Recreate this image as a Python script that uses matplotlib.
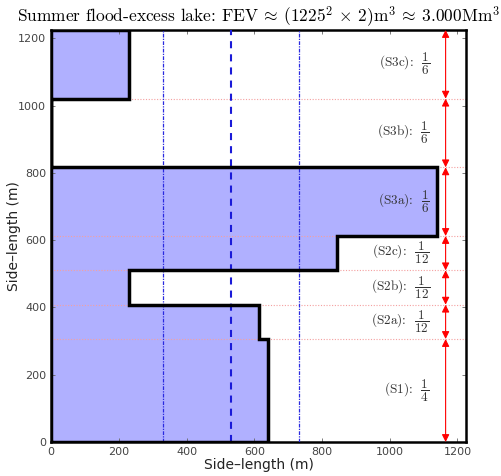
import matplotlib
matplotlib.use("Agg")
import matplotlib.pyplot as plt
import numpy as np

plt.rcParams['mathtext.fontset'] = 'cm'
plt.rcParams['axes.unicode_minus'] = False

L = 1225.0
# section fractions of the side length and widths of the filled area
sections = ['S1', 'S2a', 'S2b', 'S2c', 'S3a', 'S3b', 'S3c']
frac_num = [1, 1, 1, 1, 1, 1, 1]
frac_den = [4, 12, 12, 12, 6, 6, 6]
widths = [640, 613, 231, 844, 1140, 0, 230]
vlines_dashdot = [330, 733]
vline_dashed = 530
arrow_x = 1165

fr = np.array(frac_num) / np.array(frac_den)
bounds = np.concatenate([[0], np.cumsum(fr) * L])

fig = plt.figure(figsize=(5.01, 4.76), dpi=100)
ax = fig.add_axes([0.102, 0.0714, 0.828, 0.8656])

# polygon of the stepped outline
xs = [0]
ys = [0]
for i, w in enumerate(widths):
    xs += [w, w]
    ys += [bounds[i], bounds[i + 1]]
xs += [0, 0]
ys += [L, 0]
ax.fill(xs, ys, color='#b0b0ff', zorder=1, lw=0)
ax.plot(xs, ys, color='black', lw=2.5, zorder=4, solid_joinstyle='miter')

for b in bounds[1:-1]:
    ax.axhline(b, color='#f4a0a0', lw=0.8, ls=(0, (1, 1.5)), zorder=2)

for v in vlines_dashdot:
    ax.axvline(v, color='#2a2ae0', lw=0.9, ls=(0, (3, 1, 1, 1)), zorder=3)
ax.axvline(vline_dashed, color='#1a1ad8', lw=1.5, ls=(0, (3.4, 2.9)), zorder=3)

for i in range(len(sections)):
    ax.annotate('', xy=(arrow_x, bounds[i]), xytext=(arrow_x, bounds[i + 1]),
                arrowprops=dict(arrowstyle='<|-|>', color='red', lw=0.8,
                                mutation_scale=11, shrinkA=0, shrinkB=0),
                zorder=5)
    mid = 0.5 * (bounds[i] + bounds[i + 1])
    ax.text(1118, mid, '(%s):  $\\dfrac{%d}{%d}$' % (sections[i], frac_num[i], frac_den[i]),
            ha='right', va='center', fontsize=9.5, family='cmr10', color='#333333', zorder=6)

ax.set_xlim(0, L)
ax.set_ylim(0, L)
ax.set_xticks(np.arange(0, 1201, 200))
ax.set_yticks(np.arange(0, 1201, 200))
ax.tick_params(direction='in', top=True, right=True, labelsize=8,
               labelcolor='#444444', length=3, width=0.6, color='#666666')
for s in ax.spines.values():
    s.set_linewidth(1.8)
ax.set_xlabel('Side\u2013length (m)', fontsize=10, labelpad=1, color='#222222')
ax.set_ylabel('Side\u2013length (m)', fontsize=10, color='#222222')
ax.yaxis.set_label_coords(-0.072, 0.5)
ax.set_title(r'Summer flood-excess lake: $\mathrm{FEV}\:\approx\:(1225^2\,\times\,2)\mathrm{m}^3\:\approx\:3.000\mathrm{Mm}^3$',
             fontsize=12.5, family='cmr10', pad=6)

fig.savefig('out.png', dpi=100)
